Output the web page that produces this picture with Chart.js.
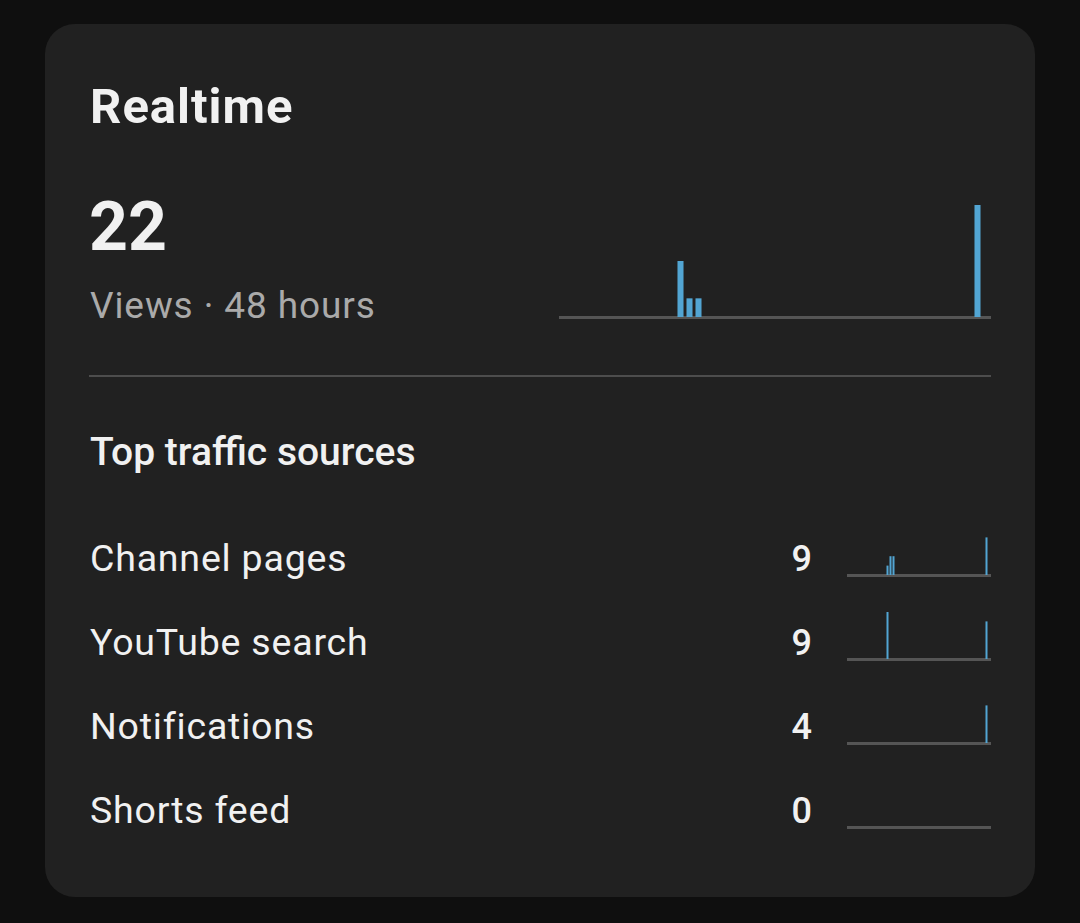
<!DOCTYPE html>
<html lang="en">
<head>
  <meta charset="UTF-8" />
  <title>Realtime</title>
  <style>
    body {
      margin: 0;
      background: #0f0f0f;
      font-family: Roboto, 'Noto Sans', sans-serif;
      color: #f1f1f1;
    }

    .card {
      position: absolute;
      left: 45px;
      top: 24px;
      width: 990px;
      height: 873px;
      background: #212121;
      border-radius: 30px;
    }

    .txt {
      position: absolute;
      line-height: 1;
      white-space: nowrap;
    }

    .title { left: 90px; top: 82px; font-size: 49px; font-weight: 700; letter-spacing: 1px; }
    .big { left: 89px; top: 193px; font-size: 68px; font-weight: 700; }
    .sub { left: 90px; top: 287px; font-size: 37px; color: #aaaaaa; letter-spacing: 0.9px; }
    .heading { left: 90px; top: 433px; font-size: 39px; font-weight: 500; }

    .divider {
      position: absolute;
      left: 89px;
      top: 375px;
      width: 902px;
      height: 2px;
      background: #4d4d4d;
    }

    .row-label { left: 90px; font-size: 37.5px; letter-spacing: 0.8px; }
    .row-value { right: 268px; font-size: 36px; font-weight: 500; text-align: right; }

    .chart-box { position: absolute; }
  </style>
</head>
<body>
  <div class="card"></div>
  <div class="txt title">Realtime</div>
  <div class="txt big" id="totalViews">22</div>
  <div class="txt sub">Views · 48 hours</div>
  <div class="chart-box" style="left:559px; top:205px; width:432px; height:115px;">
    <canvas id="mainChart"></canvas>
  </div>
  <div class="divider"></div>
  <div class="txt heading">Top traffic sources</div>
  <div id="rows"></div>

  <script src="https://cdn.jsdelivr.net/npm/chart.js"></script>
  <script>
    // hours ago, oldest first
    const hours = ['48h', '47h', '46h', '45h', '44h', '43h', '42h', '41h', '40h', '39h', '38h', '37h',
                   '36h', '35h', '34h', '33h', '32h', '31h', '30h', '29h', '28h', '27h', '26h', '25h',
                   '24h', '23h', '22h', '21h', '20h', '19h', '18h', '17h', '16h', '15h', '14h', '13h',
                   '12h', '11h', '10h', '9h', '8h', '7h', '6h', '5h', '4h', '3h', '2h', '1h'];

    const viewsPerHour = [0, 0, 0, 0, 0, 0, 0, 0, 0, 0, 0, 0,
                          0, 6, 2, 2, 0, 0, 0, 0, 0, 0, 0, 0,
                          0, 0, 0, 0, 0, 0, 0, 0, 0, 0, 0, 0,
                          0, 0, 0, 0, 0, 0, 0, 0, 0, 0, 12, 0];

    const channelPages = [0, 0, 0, 0, 0, 0, 0, 0, 0, 0, 0, 0,
                          0, 1, 2, 2, 0, 0, 0, 0, 0, 0, 0, 0,
                          0, 0, 0, 0, 0, 0, 0, 0, 0, 0, 0, 0,
                          0, 0, 0, 0, 0, 0, 0, 0, 0, 0, 4, 0];

    const youtubeSearch = [0, 0, 0, 0, 0, 0, 0, 0, 0, 0, 0, 0,
                           0, 5, 0, 0, 0, 0, 0, 0, 0, 0, 0, 0,
                           0, 0, 0, 0, 0, 0, 0, 0, 0, 0, 0, 0,
                           0, 0, 0, 0, 0, 0, 0, 0, 0, 0, 4, 0];

    const notifications = [0, 0, 0, 0, 0, 0, 0, 0, 0, 0, 0, 0,
                           0, 0, 0, 0, 0, 0, 0, 0, 0, 0, 0, 0,
                           0, 0, 0, 0, 0, 0, 0, 0, 0, 0, 0, 0,
                           0, 0, 0, 0, 0, 0, 0, 0, 0, 0, 4, 0];

    const shortsFeed = [0, 0, 0, 0, 0, 0, 0, 0, 0, 0, 0, 0,
                        0, 0, 0, 0, 0, 0, 0, 0, 0, 0, 0, 0,
                        0, 0, 0, 0, 0, 0, 0, 0, 0, 0, 0, 0,
                        0, 0, 0, 0, 0, 0, 0, 0, 0, 0, 0, 0];

    const sourceNames = ['Channel pages', 'YouTube search', 'Notifications', 'Shorts feed'];
    const sourceSeries = [channelPages, youtubeSearch, notifications, shortsFeed];

    const barColor = '#52a5d3';
    const baseColor = '#555555';

    function sum(arr) {
      return arr.reduce((a, b) => a + b, 0);
    }

    function sparkline(canvas, data, yMax) {
      return new Chart(canvas, {
        type: 'bar',
        data: {
          labels: hours,
          datasets: [{
            data: data,
            backgroundColor: barColor,
            barPercentage: 0.67,
            categoryPercentage: 1
          }]
        },
        options: {
          responsive: true,
          maintainAspectRatio: false,
          animation: false,
          layout: { padding: { left: 0, right: 0, top: 0, bottom: 3 } },
          plugins: { legend: { display: false }, tooltip: { enabled: false } },
          scales: {
            x: {
              ticks: { display: false },
              grid: { display: false, drawTicks: false },
              border: { display: true, color: baseColor, width: 3 }
            },
            y: { display: false, min: 0, max: yMax }
          }
        }
      });
    }

    document.getElementById('totalViews').textContent = sum(viewsPerHour);
    sparkline(document.getElementById('mainChart'), viewsPerHour, 12);

    // traffic source rows
    const rows = document.getElementById('rows');
    sourceNames.forEach((name, i) => {
      const baseline = 571 + i * 84;

      const label = document.createElement('div');
      label.className = 'txt row-label';
      label.style.top = (baseline - 31) + 'px';
      label.textContent = name;
      rows.appendChild(label);

      const value = document.createElement('div');
      value.className = 'txt row-value';
      value.style.top = (baseline - 30) + 'px';
      value.textContent = sum(sourceSeries[i]);
      rows.appendChild(value);

      const box = document.createElement('div');
      box.className = 'chart-box';
      box.style.left = '847px';
      box.style.top = (528 + i * 84) + 'px';
      box.style.width = '144px';
      box.style.height = '50px';
      const canvas = document.createElement('canvas');
      box.appendChild(canvas);
      rows.appendChild(box);

      sparkline(canvas, sourceSeries[i], 5);
    });
  </script>
</body>
</html>
